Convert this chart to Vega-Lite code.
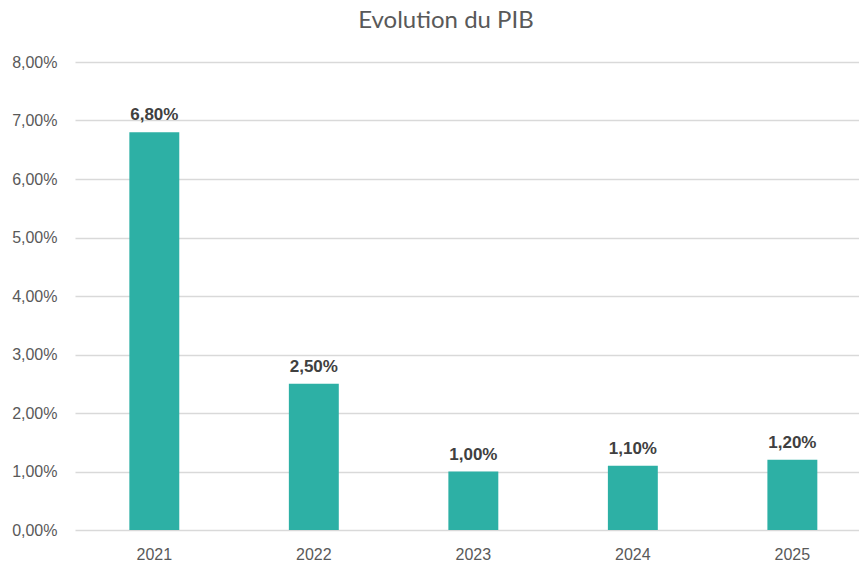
{
  "$schema": "https://vega.github.io/schema/vega-lite/v6.json",
  "autosize": {"type": "none"},
  "width": 784,
  "height": 468,
  "padding": {"left": 75, "top": 62, "right": 0, "bottom": 32},
  "background": "white",
  "title": {
    "text": "Evolution du PIB",
    "font": "Lato",
    "fontSize": 24,
    "fontWeight": "normal",
    "color": "#595959",
    "anchor": "middle",
    "dx": -21,
    "offset": 21
  },
  "config": {
    "locale": {"number": {"decimal": ",", "thousands": " ", "grouping": [3], "currency": ["", " €"]}},
    "view": {"stroke": null},
    "font": "Liberation Sans"
  },
  "data": {
    "values": [
      {"annee": "2021", "pib": 0.068},
      {"annee": "2022", "pib": 0.025},
      {"annee": "2023", "pib": 0.010},
      {"annee": "2024", "pib": 0.011},
      {"annee": "2025", "pib": 0.012}
    ]
  },
  "encoding": {
    "x": {
      "field": "annee",
      "type": "nominal",
      "scale": {"paddingInner": 0.687, "paddingOuter": 0.301, "align": 0.566},
      "axis": {
        "title": null,
        "labelAngle": 0,
        "labelFont": "Liberation Sans",
        "labelFontSize": 16,
        "labelColor": "#595959",
        "labelPadding": 16,
        "ticks": false,
        "domain": false,
        "grid": false
      }
    },
    "y": {
      "field": "pib",
      "type": "quantitative",
      "scale": {"domain": [0, 0.08], "nice": false},
      "axis": {
        "title": null,
        "format": ".2%",
        "values": [0, 0.01, 0.02, 0.03, 0.04, 0.05, 0.06, 0.07, 0.08],
        "labelFont": "Liberation Sans",
        "labelFontSize": 16,
        "labelColor": "#595959",
        "labelPadding": 18,
        "ticks": false,
        "domain": false,
        "grid": true,
        "gridColor": "#d9d9d9",
        "gridWidth": 1.5
      }
    }
  },
  "layer": [
    {"mark": {"type": "bar", "color": "#2db0a5"}},
    {
      "mark": {"type": "text", "font": "Liberation Sans", "baseline": "alphabetic", "dy": -12, "fontSize": 17, "fontWeight": "bold", "color": "#404040"},
      "encoding": {"text": {"field": "pib", "type": "quantitative", "format": ".2%"}}
    }
  ]
}
